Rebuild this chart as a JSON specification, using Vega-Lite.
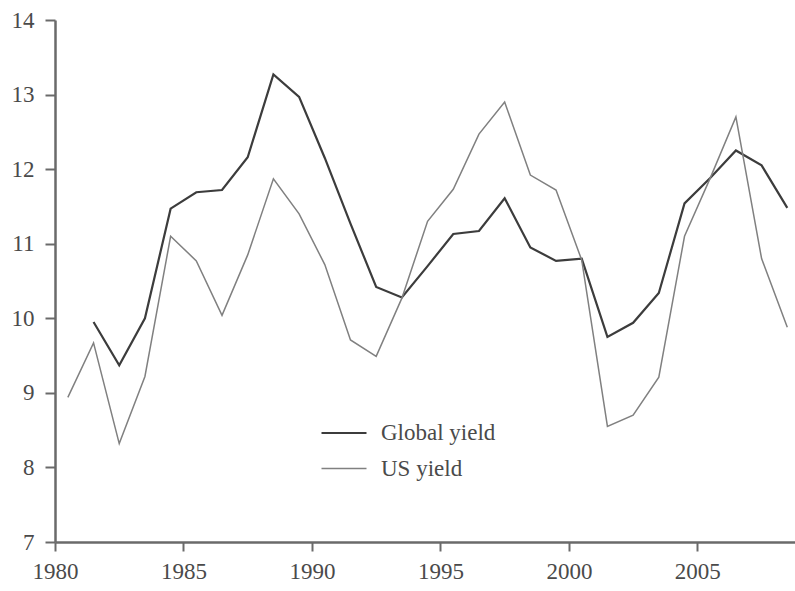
{
  "$schema": "https://vega.github.io/schema/vega-lite/v6.json",
  "width": 740,
  "height": 522,
  "autosize": {"type": "none"},
  "padding": {"left": 55, "top": 20, "right": 0, "bottom": 49},
  "background": "white",
  "config": {"view": {"stroke": null}, "font": "Liberation Serif"},
  "data": {"values": [
    {"year": 1981.5, "series": "Global yield", "value": 9.95},
    {"year": 1982.5, "series": "Global yield", "value": 9.37},
    {"year": 1983.5, "series": "Global yield", "value": 10.0},
    {"year": 1984.5, "series": "Global yield", "value": 11.47},
    {"year": 1985.5, "series": "Global yield", "value": 11.69},
    {"year": 1986.5, "series": "Global yield", "value": 11.72},
    {"year": 1987.5, "series": "Global yield", "value": 12.16},
    {"year": 1988.5, "series": "Global yield", "value": 13.27},
    {"year": 1989.5, "series": "Global yield", "value": 12.97},
    {"year": 1990.5, "series": "Global yield", "value": 12.15},
    {"year": 1991.5, "series": "Global yield", "value": 11.27},
    {"year": 1992.5, "series": "Global yield", "value": 10.42},
    {"year": 1993.5, "series": "Global yield", "value": 10.28},
    {"year": 1994.5, "series": "Global yield", "value": 10.7},
    {"year": 1995.5, "series": "Global yield", "value": 11.13},
    {"year": 1996.5, "series": "Global yield", "value": 11.17},
    {"year": 1997.5, "series": "Global yield", "value": 11.61},
    {"year": 1998.5, "series": "Global yield", "value": 10.95},
    {"year": 1999.5, "series": "Global yield", "value": 10.77},
    {"year": 2000.5, "series": "Global yield", "value": 10.8},
    {"year": 2001.5, "series": "Global yield", "value": 9.75},
    {"year": 2002.5, "series": "Global yield", "value": 9.94},
    {"year": 2003.5, "series": "Global yield", "value": 10.34},
    {"year": 2004.5, "series": "Global yield", "value": 11.54},
    {"year": 2005.5, "series": "Global yield", "value": 11.88},
    {"year": 2006.5, "series": "Global yield", "value": 12.25},
    {"year": 2007.5, "series": "Global yield", "value": 12.05},
    {"year": 2008.5, "series": "Global yield", "value": 11.48},
    {"year": 1980.5, "series": "US yield", "value": 8.94},
    {"year": 1981.5, "series": "US yield", "value": 9.67},
    {"year": 1982.5, "series": "US yield", "value": 8.32},
    {"year": 1983.5, "series": "US yield", "value": 9.22},
    {"year": 1984.5, "series": "US yield", "value": 11.1},
    {"year": 1985.5, "series": "US yield", "value": 10.77},
    {"year": 1986.5, "series": "US yield", "value": 10.04},
    {"year": 1987.5, "series": "US yield", "value": 10.85},
    {"year": 1988.5, "series": "US yield", "value": 11.87},
    {"year": 1989.5, "series": "US yield", "value": 11.4},
    {"year": 1990.5, "series": "US yield", "value": 10.72},
    {"year": 1991.5, "series": "US yield", "value": 9.71},
    {"year": 1992.5, "series": "US yield", "value": 9.49},
    {"year": 1993.5, "series": "US yield", "value": 10.27},
    {"year": 1994.5, "series": "US yield", "value": 11.3},
    {"year": 1995.5, "series": "US yield", "value": 11.73},
    {"year": 1996.5, "series": "US yield", "value": 12.47},
    {"year": 1997.5, "series": "US yield", "value": 12.9},
    {"year": 1998.5, "series": "US yield", "value": 11.92},
    {"year": 1999.5, "series": "US yield", "value": 11.72},
    {"year": 2000.5, "series": "US yield", "value": 10.78},
    {"year": 2001.5, "series": "US yield", "value": 8.55},
    {"year": 2002.5, "series": "US yield", "value": 8.7},
    {"year": 2003.5, "series": "US yield", "value": 9.21},
    {"year": 2004.5, "series": "US yield", "value": 11.1},
    {"year": 2005.5, "series": "US yield", "value": 11.88},
    {"year": 2006.5, "series": "US yield", "value": 12.7},
    {"year": 2007.5, "series": "US yield", "value": 10.8},
    {"year": 2008.5, "series": "US yield", "value": 9.88}
  ]},
  "mark": {"type": "line", "strokeJoin": "miter"},
  "encoding": {
    "x": {
      "field": "year", "type": "quantitative",
      "scale": {"domain": [1980, 2008.8], "nice": false, "zero": false},
      "axis": {
        "title": null, "grid": false, "values": [1980, 1985, 1990, 1995, 2000, 2005],
        "format": "d", "domainColor": "#6a6a6a", "domainWidth": 2.5,
        "tickColor": "#6a6a6a", "tickWidth": 2, "tickSize": 9,
        "labelFont": "Liberation Serif", "labelFontSize": 23, "labelColor": "#4a4a4a",
        "labelPadding": 9, "labelFlush": false
      }
    },
    "y": {
      "field": "value", "type": "quantitative",
      "scale": {"domain": [7, 14], "nice": false, "zero": false},
      "axis": {
        "title": null, "grid": false, "values": [7, 8, 9, 10, 11, 12, 13, 14],
        "domainColor": "#6a6a6a", "domainWidth": 2.5,
        "tickColor": "#6a6a6a", "tickWidth": 2, "tickSize": 10,
        "labelFont": "Liberation Serif", "labelFontSize": 23, "labelColor": "#4a4a4a",
        "labelPadding": 11, "labelFlush": false
      }
    },
    "color": {
      "field": "series", "type": "nominal",
      "scale": {"domain": ["Global yield", "US yield"], "range": ["#3c3c3c", "#808080"]},
      "legend": {
        "title": null, "orient": "none", "legendX": 265, "legendY": 389,
        "symbolType": "stroke", "symbolSize": 2025, "symbolStrokeWidth": 2,
        "rowPadding": -12, "labelOffset": 13,
        "labelFont": "Liberation Serif", "labelFontSize": 23, "labelColor": "#4a4a4a"
      }
    },
    "strokeWidth": {
      "field": "series", "type": "nominal",
      "scale": {"domain": ["Global yield", "US yield"], "range": [2.2, 1.5]},
      "legend": null
    }
  }
}
